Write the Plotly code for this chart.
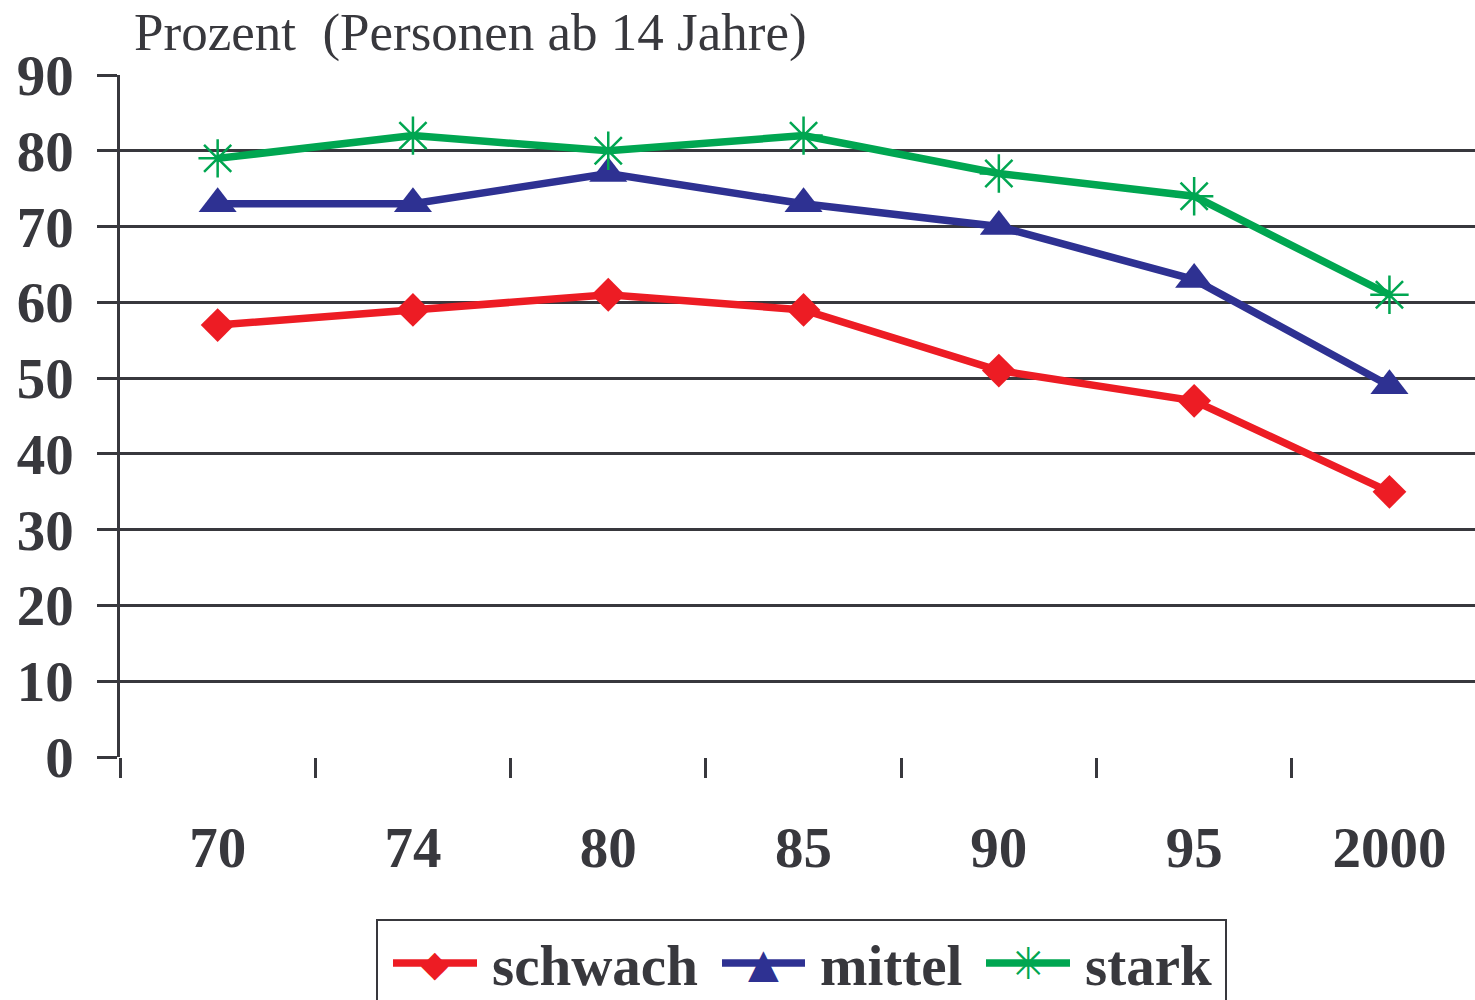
import plotly.graph_objects as go

years = ["70", "74", "80", "85", "90", "95", "2000"]
schwach = [57, 59, 61, 59, 51, 47, 35]
mittel = [73, 73, 77, 73, 70, 63, 49]
stark = [79, 82, 80, 82, 77, 74, 61]

series_names = ["schwach", "mittel", "stark"]
series_colors = ["#ED1C24", "#2E3192", "#00A651"]
legend_glyphs = ["◆", "▲", "✳"]
glyph_sizes = [36, 40, 44]

ink = "#38383d"
font = "Liberation Serif"

# plot area in pixels: x 120..1475 (cut off at the right), y 75..757
L, T, B = 120, 75, 757
PW, PH = 1475 - L, B - T
STEP = 195.3  # pixels per category


def px(x):
    return (x - L) / PW


def py(y):
    return (B - y) / PH


fig = go.Figure()
fig.add_trace(go.Scatter(
    x=years, y=schwach, name="schwach", mode="lines+markers",
    line=dict(color=series_colors[0], width=7.5),
    marker=dict(symbol="diamond", size=26, color=series_colors[0]),
))
fig.add_trace(go.Scatter(
    x=years, y=mittel, name="mittel", mode="lines+markers",
    line=dict(color=series_colors[1], width=7.5),
    marker=dict(symbol="triangle-up", size=33, color=series_colors[1]),
))
fig.add_trace(go.Scatter(
    x=years, y=stark, name="stark", mode="lines+markers",
    line=dict(color=series_colors[2], width=7.5),
    marker=dict(symbol="asterisk-open", size=32, color=series_colors[2],
                line=dict(color=series_colors[2], width=2.5)),
))

fig.update_layout(
    width=1475, height=1000,
    margin=dict(l=L, r=0, t=T, b=1000 - B),
    paper_bgcolor="white", plot_bgcolor="white",
    font=dict(family=font, color=ink),
    showlegend=False,
)
fig.update_xaxes(
    type="category", range=[-0.5, -0.5 + PW / STEP], automargin=False,
    showgrid=False, showline=False, zeroline=False,
    ticks="outside", tickson="boundaries", ticklen=20, tickwidth=2.5, tickcolor=ink,
    ticklabelstandoff=52,
    tickfont=dict(family=font, size=57, color=ink, weight="bold"),
)
fig.update_yaxes(
    range=[0, 90], dtick=10, automargin=False,
    showgrid=True, gridcolor=ink, gridwidth=2.5,
    showline=True, linecolor=ink, linewidth=2.5,
    zeroline=False,
    ticks="outside", ticklen=20, tickwidth=2.5, tickcolor=ink,
    ticklabelstandoff=12,
    tickfont=dict(family=font, size=57, color=ink, weight="bold"),
)

fig.add_annotation(
    text="Prozent  (Personen ab 14 Jahre)",
    xref="paper", yref="paper", x=px(132), y=py(32),
    xanchor="left", yanchor="middle", showarrow=False,
    font=dict(family=font, size=53, color=ink),
)

# hand-drawn legend box below the plot
fig.add_shape(type="rect", xref="paper", yref="paper",
              x0=px(377), x1=px(1226), y0=py(920), y1=py(1012),
              line=dict(color=ink, width=2), fillcolor="white", layer="below")

legend_line = [(393, 477), (722, 805), (986, 1070)]
legend_text_x = [490, 818, 1083]
for name, color, glyph, gsize, (x0, x1), tx in zip(series_names, series_colors, legend_glyphs,
                                                 glyph_sizes, legend_line, legend_text_x):
    fig.add_shape(type="line", xref="paper", yref="paper",
                  x0=px(x0), x1=px(x1), y0=py(963), y1=py(963),
                  line=dict(color=color, width=7.5))
    fig.add_annotation(text=glyph, xref="paper", yref="paper",
                       x=px((x0 + x1) / 2), y=py(963), showarrow=False,
                       xanchor="center", yanchor="middle",
                       font=dict(family="DejaVu Sans", size=gsize, color=color))
    fig.add_annotation(text="<b>" + name + "</b>", xref="paper", yref="paper",
                       x=px(tx), y=py(965), showarrow=False,
                       xanchor="left", yanchor="middle",
                       font=dict(family=font, size=57, color=ink))

# drop the default body margin so the figure sits at the window's corner
fig.write_html("out.html", config={"displayModeBar": False},
               post_script="document.body.style.margin = '0';")
